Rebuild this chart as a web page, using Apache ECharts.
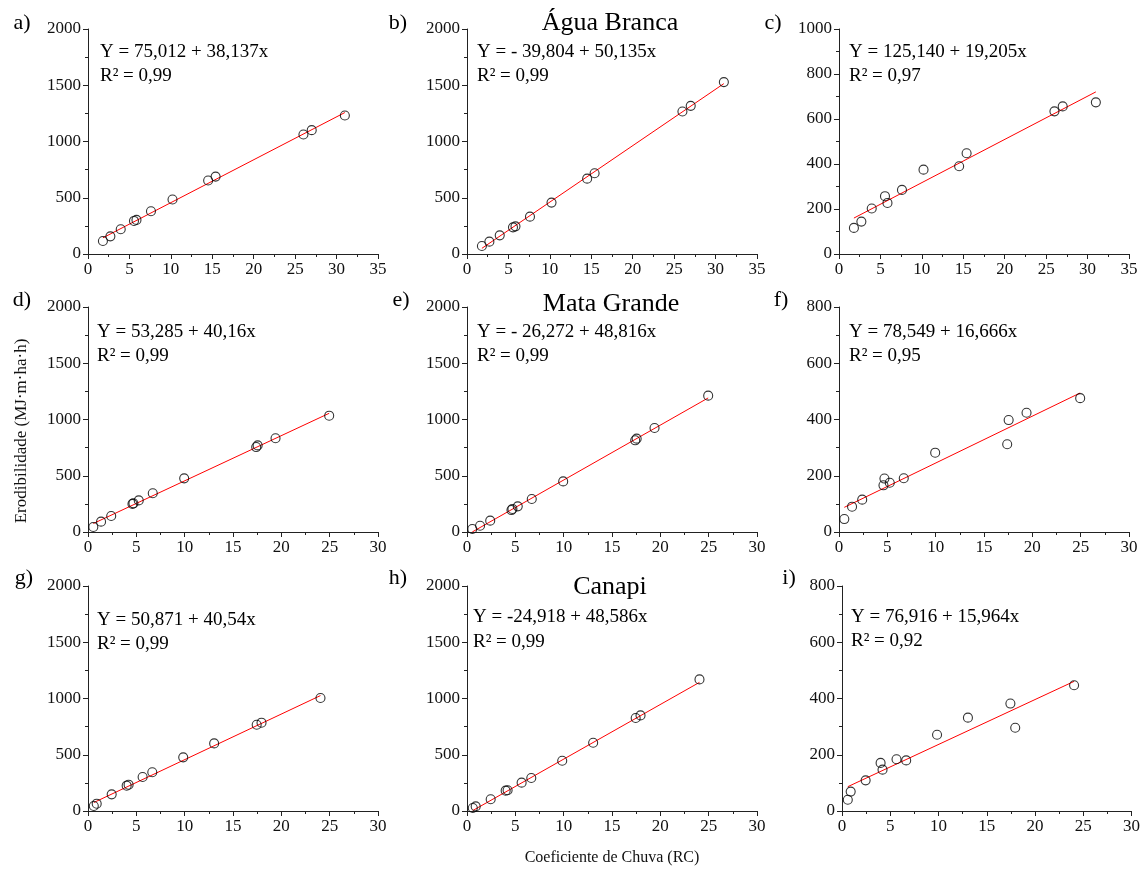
<!DOCTYPE html>
<html>
<head>
<meta charset="utf-8">
<script src="https://cdn.jsdelivr.net/npm/echarts@6/dist/echarts.min.js"></script>
<style>
html,body{margin:0;padding:0;background:#fff;}
#chart{width:1143px;height:869px;}
</style>
</head>
<body>
<div id="chart"></div>
<script>
// ---- data ----
const panelLetters = ['a)', 'b)', 'c)', 'd)', 'e)', 'f)', 'g)', 'h)', 'i)'];
const rowTitles = ['Água Branca', 'Mata Grande', 'Canapi'];
const xAxisLabel = 'Coeficiente de Chuva (RC)';
const yAxisLabel = 'Erodibilidade (MJ·m·ha·h)';

const rcRow1 = [1.8, 2.7, 3.95, 5.55, 5.85, 7.6, 10.2, 14.5, 15.4, 26.0, 27.0, 31.0];
const rcRow2 = [0.55, 1.35, 2.4, 4.6, 4.7, 5.25, 6.7, 9.95, 17.4, 17.55, 19.4, 24.95];
const rcRow3 = [0.6, 0.9, 2.45, 4.0, 4.2, 5.65, 6.65, 9.85, 13.05, 17.45, 17.95, 24.05];

const eiA = [116, 157, 220, 294, 303, 380, 484, 653, 688, 1062, 1101, 1231];
const eiB = [71, 110, 166, 237, 246, 332, 457, 670, 718, 1267, 1317, 1528];
const eiC = [116, 144, 202, 257, 227, 285, 375, 390, 448, 634, 656, 674];
const eiD = [44, 92, 142, 250, 255, 281, 344, 477, 755, 770, 833, 1034];
const eiE = [27, 56, 101, 195, 205, 228, 293, 450, 815, 830, 924, 1212];
const eiF = [46, 90, 115, 166, 190, 175, 191, 282, 312, 398, 424, 476];
const eiG = [44, 65, 148, 225, 234, 302, 344, 477, 601, 767, 785, 1004];
const eiH = [27, 41, 104, 181, 184, 252, 293, 447, 607, 827, 850, 1170];
const eiI = [40, 69, 109, 171, 147, 184, 180, 271, 332, 382, 296, 447];

// regression coefficients as printed in the chart
const intercepts = [75.012, -39.804, 125.140, 53.285, -26.272, 78.549, 50.871, -24.918, 76.916];
const slopes = [38.137, 50.135, 19.205, 40.16, 48.816, 16.666, 40.54, 48.586, 15.964];
const equationTexts = [
  'Y = 75,012 + 38,137x', 'Y = - 39,804 + 50,135x', 'Y = 125,140 + 19,205x',
  'Y = 53,285 + 40,16x', 'Y = - 26,272 + 48,816x', 'Y = 78,549 + 16,666x',
  'Y = 50,871 + 40,54x', 'Y = -24,918 + 48,586x', 'Y = 76,916 + 15,964x'
];
const r2Texts = ['R² = 0,99', 'R² = 0,99', 'R² = 0,97', 'R² = 0,99', 'R² = 0,99', 'R² = 0,95', 'R² = 0,99', 'R² = 0,99', 'R² = 0,92'];

const xMaxes = [35, 35, 35, 30, 30, 30, 30, 30, 30];
const yMaxes = [2000, 2000, 1000, 2000, 2000, 800, 2000, 2000, 800];
const yIntervals = [500, 500, 200, 500, 500, 200, 500, 500, 200];

const xsByPanel = [rcRow1, rcRow1, rcRow1, rcRow2, rcRow2, rcRow2, rcRow3, rcRow3, rcRow3];
const ysByPanel = [eiA, eiB, eiC, eiD, eiE, eiF, eiG, eiH, eiI];

// ---- layout ----
const FONT = '"Liberation Serif", "Times New Roman", serif';
const colLefts = [[88, 467, 839], [88, 467, 839], [88, 467, 842]];
const rowTops = [29, 307, 586];
const gW = 290, gH = 225;
const letterPos = [[22, 23], [398, 23], [773, 23], [22, 300], [401, 300], [781, 300], [24, 578], [398, 578], [789, 578]];
const eqPos = [[100, 52, 76], [477, 52, 76], [849, 52, 76], [97, 332, 356], [477, 332, 356], [849, 332, 356], [97, 620, 644], [473, 617, 642], [851, 617, 641]];
const titlePos = [[610, 22], [611, 303], [610, 586]];

const plain = v => String(v);
const grids = [], xAxes = [], yAxes = [], series = [], graphics = [];
for (let p = 0; p < 9; p++) {
  const r = Math.floor(p / 3), c = p % 3;
  grids.push({ left: colLefts[r][c], top: rowTops[r], width: gW, height: gH, containLabel: false });
  const axisCommon = {
    gridIndex: p,
    axisLine: { show: true, onZero: false, lineStyle: { color: '#222', width: 1 } },
    axisTick: { show: true, inside: false, length: 5, lineStyle: { color: '#222' } },
    minorTick: { show: true, splitNumber: 2, length: 3, lineStyle: { color: '#222' } },
    splitLine: { show: false },
    minorSplitLine: { show: false },
    axisLabel: { color: '#111', fontFamily: FONT, fontSize: 17, formatter: plain }
  };
  xAxes.push(Object.assign({}, axisCommon, {
    type: 'value', min: 0, max: xMaxes[p], interval: 5,
    axisLabel: Object.assign({}, axisCommon.axisLabel, { margin: 7, showMaxLabel: true })
  }));
  yAxes.push(Object.assign({}, axisCommon, {
    type: 'value', min: 0, max: yMaxes[p], interval: yIntervals[p],
    axisLabel: Object.assign({}, axisCommon.axisLabel, { margin: 7 })
  }));
  const xs = xsByPanel[p], ys = ysByPanel[p];
  const xmin = Math.min.apply(null, xs), xmax = Math.max.apply(null, xs);
  series.push({
    type: 'line', xAxisIndex: p, yAxisIndex: p, showSymbol: false, symbol: 'none', silent: true,
    lineStyle: { color: '#ff0000', width: 1 }, z: 2,
    data: [[xmin, intercepts[p] + slopes[p] * xmin], [xmax, intercepts[p] + slopes[p] * xmax]]
  });
  series.push({
    type: 'scatter', xAxisIndex: p, yAxisIndex: p, symbol: 'circle', symbolSize: 9, z: 3,
    itemStyle: { color: 'rgba(255,255,255,0)', borderColor: '#000', borderWidth: 1.1 },
    data: xs.map((x, i) => [x, ys[i]])
  });
  graphics.push({ type: 'text', x: letterPos[p][0], y: letterPos[p][1],
    style: { text: panelLetters[p], font: '22px ' + FONT, fill: '#000', align: 'center', verticalAlign: 'middle' } });
  graphics.push({ type: 'text', x: eqPos[p][0], y: eqPos[p][1],
    style: { text: equationTexts[p], font: '19px ' + FONT, fill: '#000', align: 'left', verticalAlign: 'middle' } });
  graphics.push({ type: 'text', x: eqPos[p][0], y: eqPos[p][2],
    style: { text: r2Texts[p], font: '19px ' + FONT, fill: '#000', align: 'left', verticalAlign: 'middle' } });
}
for (let r = 0; r < 3; r++) {
  graphics.push({ type: 'text', x: titlePos[r][0], y: titlePos[r][1] + 1,
    style: { text: rowTitles[r], font: '26px ' + FONT, fill: '#000', align: 'center', verticalAlign: 'middle' } });
}
graphics.push({ type: 'text', x: 612, y: 858,
  style: { text: xAxisLabel, font: '16px ' + FONT, fill: '#111', align: 'center', verticalAlign: 'middle' } });
graphics.push({ type: 'text', x: 22, y: 431, rotation: Math.PI / 2,
  style: { text: yAxisLabel, font: '17px ' + FONT, fill: '#111', align: 'center', verticalAlign: 'middle' } });

const chart = echarts.init(document.getElementById('chart'), null, { renderer: 'canvas' });
chart.setOption({
  animation: false,
  backgroundColor: '#fff',
  grid: grids,
  xAxis: xAxes,
  yAxis: yAxes,
  series: series,
  graphic: graphics
});
</script>
</body>
</html>
